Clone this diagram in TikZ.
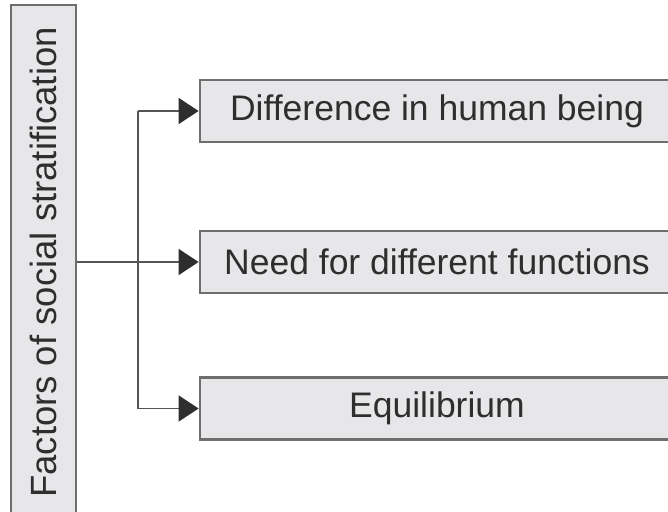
\documentclass[tikz,border=0pt]{standalone}
\usepackage{fontspec}
\setmainfont{Liberation Sans}
\usetikzlibrary{arrows.meta}
\definecolor{boxfill}{HTML}{E7E7E9}
\definecolor{boxdraw}{HTML}{6E6E6E}
\definecolor{txt}{HTML}{2E2E2E}
\definecolor{conn}{HTML}{555555}
\begin{document}
\begin{tikzpicture}[x=1pt,y=-1pt,
  factorbox/.style={draw=boxdraw, line width=2.8pt, fill=boxfill, text=txt, inner sep=0pt,
    minimum width=474pt, minimum height=62pt, font=\fontsize{35.5}{42}\selectfont},
  mainbox/.style={draw=boxdraw, line width=2.8pt, fill=boxfill, text=txt, inner sep=0pt,
    minimum width=65pt, minimum height=515pt},
  conline/.style={draw=conn, line width=1.6pt},
  conarrow/.style={conline, -{Triangle[length=20pt,width=26pt,color=txt,fill=txt]}}]
\useasboundingbox (0,0) rectangle (668,511);
\clip (0,0) rectangle (668,511);
\node[mainbox] (L) at (43.5,262.5) {\rotatebox{90}{\fontsize{36.5}{42}\selectfont Factors of social stratification}};
\node[factorbox] (b1) at (437,111) {Difference in human being};
\node[factorbox] (b2) at (437,262) {Need for different functions};
\node[factorbox] (b3) at (437,408.5) {Equilibrium};
\coordinate (j) at (138,0);
\draw[conline] (j |- b1.west) -- (j |- b3.west);
\draw[conline] (L.east |- b2.west) -- (j |- b2.west);
\draw[conarrow] (j |- b1.west) -- (b1.west);
\draw[conarrow] (j |- b2.west) -- (b2.west);
\draw[conarrow] (j |- b3.west) -- (b3.west);
\end{tikzpicture}
\end{document}
